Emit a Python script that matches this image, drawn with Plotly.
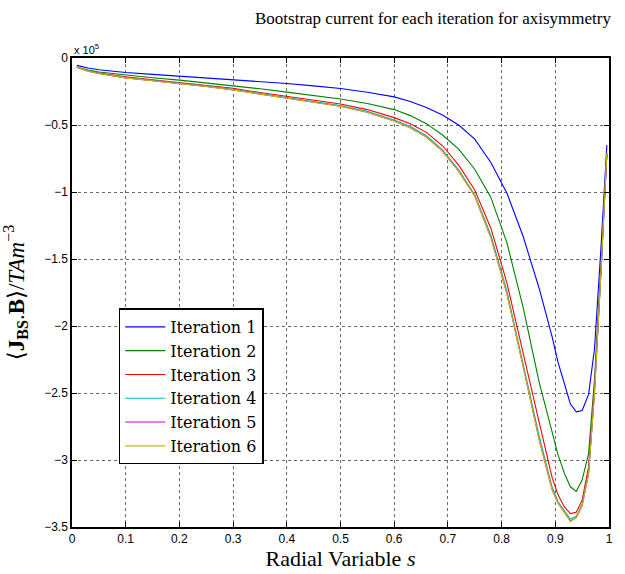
import plotly.graph_objects as go

s = [0.009, 0.03, 0.05, 0.1, 0.15, 0.2, 0.25, 0.3, 0.35, 0.4, 0.45, 0.5, 0.55, 0.6,
     0.63, 0.66, 0.69, 0.72, 0.75, 0.78, 0.81, 0.84, 0.87, 0.894, 0.905, 0.917,
     0.928, 0.939, 0.950, 0.962, 0.973, 0.985, 0.996]

# values in units of 1e5
iter1 = [-0.055, -0.075, -0.088, -0.108, -0.122, -0.135, -0.150, -0.165, -0.178, -0.190,
         -0.208, -0.228, -0.255, -0.29, -0.325, -0.37, -0.425, -0.50, -0.605, -0.78,
         -1.01, -1.33, -1.72, -2.08, -2.27, -2.44, -2.58, -2.64, -2.63, -2.51,
         -2.17, -1.42, -0.65]
iter2 = [-0.067, -0.09, -0.105, -0.128, -0.147, -0.165, -0.185, -0.206, -0.23, -0.255,
         -0.28, -0.306, -0.34, -0.385, -0.43, -0.49, -0.575, -0.68, -0.83, -1.04,
         -1.38, -1.86, -2.42, -2.80, -2.96, -3.10, -3.20, -3.235, -3.15, -2.95,
         -2.40, -1.55, -0.71]
iter3 = [-0.067, -0.095, -0.112, -0.14, -0.162, -0.182, -0.204, -0.226, -0.258, -0.287,
         -0.313, -0.343, -0.385, -0.445, -0.49, -0.555, -0.655, -0.80, -0.985, -1.27,
         -1.68, -2.21, -2.72, -3.13, -3.26, -3.35, -3.40, -3.39, -3.30, -3.05,
         -2.45, -1.58, -0.72]
iter4 = [-0.067, -0.096, -0.114, -0.145, -0.167, -0.187, -0.210, -0.234, -0.266, -0.295,
         -0.325, -0.355, -0.398, -0.462, -0.51, -0.58, -0.685, -0.835, -1.02, -1.32,
         -1.74, -2.28, -2.82, -3.20, -3.31, -3.38, -3.44, -3.42, -3.33, -3.09,
         -2.49, -1.60, -0.71]
iter5 = [-0.068, -0.098, -0.116, -0.148, -0.17, -0.19, -0.213, -0.238, -0.27, -0.30,
         -0.33, -0.36, -0.405, -0.47, -0.52, -0.59, -0.695, -0.845, -1.03, -1.34,
         -1.76, -2.30, -2.85, -3.22, -3.32, -3.39, -3.455, -3.43, -3.34, -3.10,
         -2.50, -1.60, -0.71]
iter6 = [-0.068, -0.098, -0.116, -0.148, -0.17, -0.19, -0.213, -0.238, -0.27, -0.30,
         -0.33, -0.36, -0.405, -0.47, -0.52, -0.59, -0.695, -0.845, -1.03, -1.34,
         -1.76, -2.30, -2.85, -3.22, -3.32, -3.39, -3.46, -3.43, -3.34, -3.10,
         -2.50, -1.60, -0.71]

names = ["Iteration 1", "Iteration 2", "Iteration 3", "Iteration 4", "Iteration 5", "Iteration 6"]
colors = ["#0000ff", "#008000", "#ff0000", "#00bfbf", "#bf00bf", "#bfbf00"]
series = [iter1, iter2, iter3, iter4, iter5, iter6]

xticks = [0, 0.1, 0.2, 0.3, 0.4, 0.5, 0.6, 0.7, 0.8, 0.9, 1]
xtick_text = ["0", "0.1", "0.2", "0.3", "0.4", "0.5", "0.6", "0.7", "0.8", "0.9", "1"]
yticks = [0, -0.5, -1, -1.5, -2, -2.5, -3, -3.5]
ytick_text = ["0", "\u22120.5", "\u22121", "\u22121.5", "\u22122", "\u22122.5", "\u22123", "\u22123.5"]

fig = go.Figure()
for name, col, ys in zip(names, colors, series):
    fig.add_trace(go.Scatter(x=s, y=ys, mode="lines", name=name,
                             line=dict(color=col, width=1.1)))

serif = "Liberation Serif, DejaVu Serif, serif"
serif_wide = "DejaVu Serif, serif"
sans = "Liberation Sans, Arial, sans-serif"

axis_common = dict(showline=True, linecolor="black", linewidth=1.5, mirror="ticks",
                   ticks="inside", ticklen=5, tickcolor="black",
                   showgrid=True, gridcolor="#6a6a6a", griddash="dot", gridwidth=1,
                   zeroline=False, tickfont=dict(family=sans, size=12, color="black"))

fig.update_layout(
    width=625, height=574,
    margin=dict(l=72, r=13, t=58, b=38),
    paper_bgcolor="white", plot_bgcolor="white",
    showlegend=True,
    legend=dict(x=0.087, y=0.466, xanchor="left", yanchor="top",
                bgcolor="white", bordercolor="black", borderwidth=1.5,
                font=dict(family=serif_wide, size=16, color="black"),
                tracegroupgap=0, itemwidth=40),
    xaxis=dict(range=[0, 1], tickvals=xticks, ticktext=xtick_text,
               title=dict(text="Radial Variable <i>s</i>", font=dict(family=serif, size=22, color="black"),
                          standoff=0),
               **axis_common),
    yaxis=dict(range=[-3.5, 0], tickvals=yticks, ticktext=ytick_text,
               title=dict(text="\u27e8<b>J</b><sub><b>BS</b></sub>.<b>B</b>\u27e9/<i>TAm</i><sup>\u22123</sup>",
                          font=dict(family=serif, size=23, color="black"), standoff=16),
               **axis_common),
)

fig.add_annotation(text="Bootstrap current for each iteration for axisymmetry",
                   xref="paper", yref="paper", x=1.0, y=1.0, yshift=51, xshift=4,
                   xanchor="right", yanchor="top", showarrow=False,
                   font=dict(family=serif, size=17, color="black"))
fig.add_annotation(text="x 10<sup>5</sup>", xref="paper", yref="paper", x=0.0, y=1.0,
                   xanchor="left", yanchor="bottom", showarrow=False, yshift=0,
                   font=dict(family=sans, size=11, color="black"))

fig.write_html("out.html")
